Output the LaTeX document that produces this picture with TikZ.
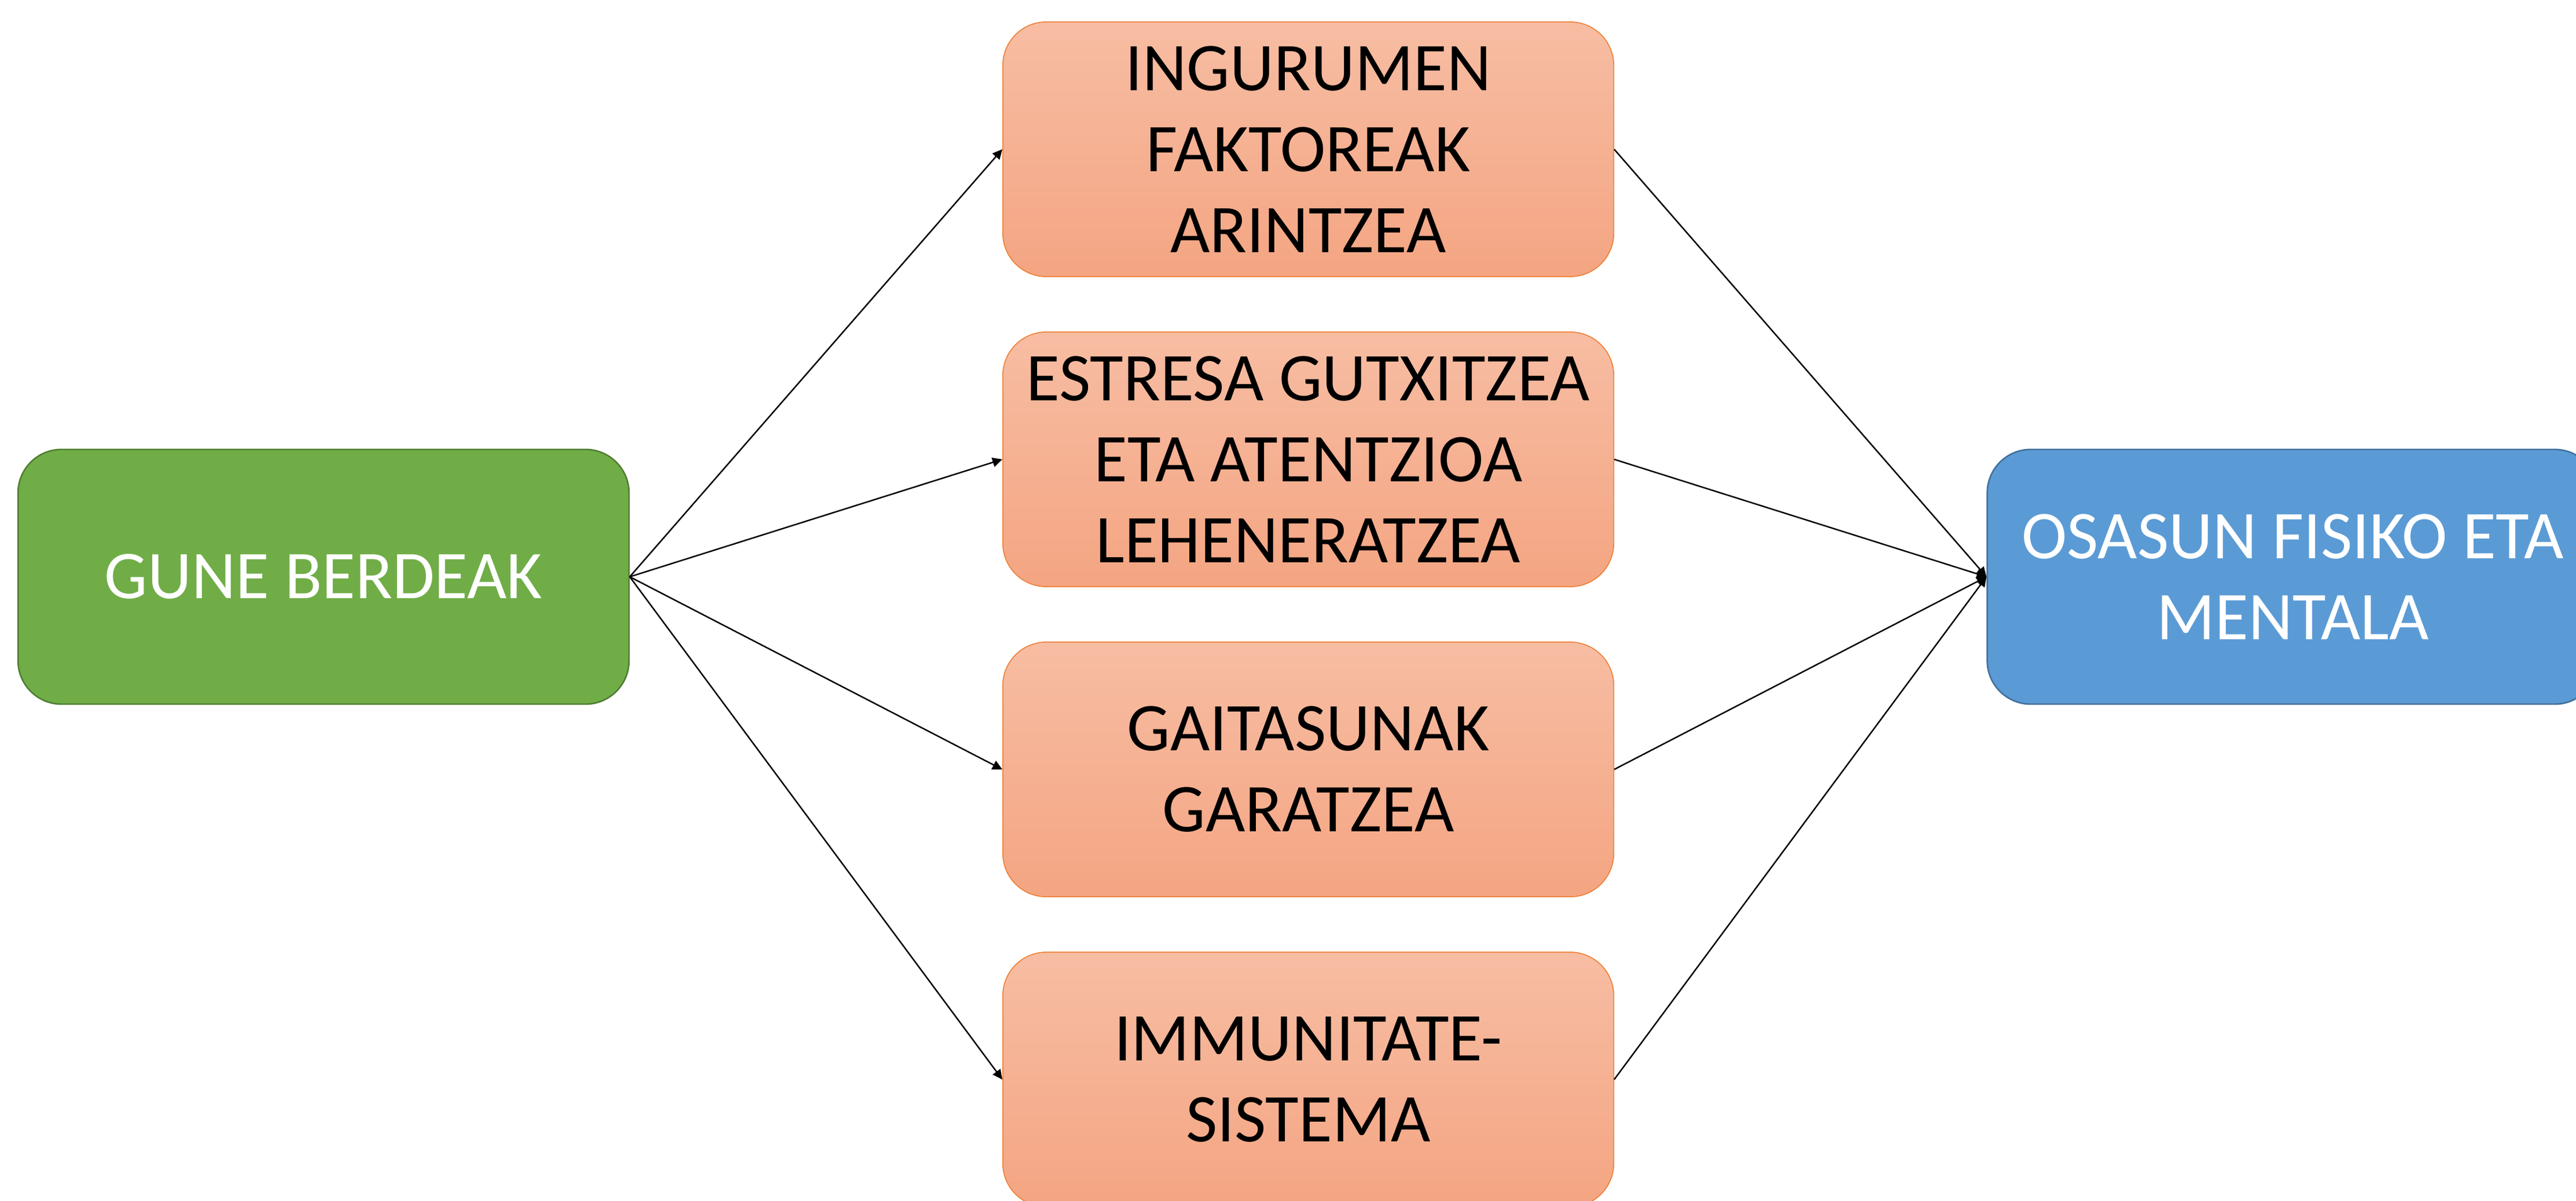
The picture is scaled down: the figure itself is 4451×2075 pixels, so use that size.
\documentclass[tikz,border=0pt]{standalone}
\usepackage{fontspec}
\setmainfont{Carlito}
\usetikzlibrary{arrows.meta}
\definecolor{gfill}{RGB}{112,173,71}
\definecolor{gline}{RGB}{80,126,50}
\definecolor{bfill}{RGB}{91,155,213}
\definecolor{bline}{RGB}{65,113,156}
\definecolor{otop}{RGB}{247,189,163}
\definecolor{obot}{RGB}{244,165,130}
\definecolor{oline}{RGB}{237,125,49}
\tikzset{
  boxbase/.style={rectangle, rounded corners=0.75cm, minimum width=10.55cm, minimum height=4.40cm,
    inner sep=0pt, align=center, font=\fontsize{33.6}{39.8}\selectfont},
  greenbox/.style={boxbase, fill=gfill, draw=gline, line width=0.75pt, text=white},
  bluebox/.style={boxbase, fill=bfill, draw=bline, line width=0.75pt, text=white},
  orangebox/.style={boxbase, top color=otop, bottom color=obot, draw=oline, line width=0.45pt, text=black},
  conn/.style={draw=black, line width=0.7pt, -{Triangle[length=4.8pt,width=4.6pt]}}
}
\begin{document}
\begin{tikzpicture}[x=0.01cm, y=-0.01cm]
\useasboundingbox (0,0) rectangle (4451,2075);
\node[greenbox] (g) at (559,997) {GUNE BERDEAK};
\node[orangebox] (o1) at (2260.5,258) {INGURUMEN\\FAKTOREAK\\ARINTZEA};
\node[orangebox] (o2) at (2260.5,794) {ESTRESA GUTXITZEA\\ETA ATENTZIOA\\LEHENERATZEA};
\node[orangebox] (o3) at (2260.5,1330) {GAITASUNAK\\GARATZEA};
\node[orangebox] (o4) at (2260.5,1866) {IMMUNITATE-\\SISTEMA};
\node[bluebox] (b) at (3961.5,997) {OSASUN FISIKO ETA\\MENTALA};
\foreach \o in {o1,o2,o3,o4}{
  \draw[conn] (g.east) -- (\o.west);
  \draw[conn] (\o.east) -- (b.west);
}
\end{tikzpicture}
\end{document}
